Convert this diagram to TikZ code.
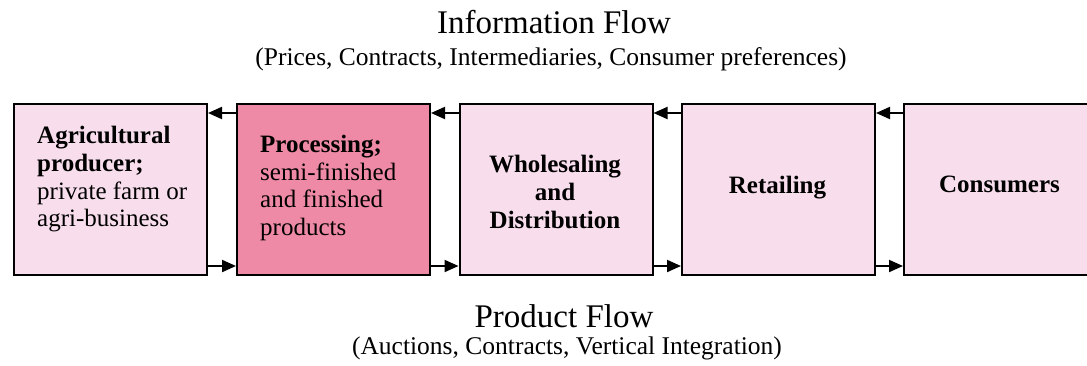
\documentclass[tikz,border=0pt]{standalone}
\usepackage{fontspec}
\setmainfont{Liberation Serif}
\usetikzlibrary{arrows.meta}
\definecolor{lightpink}{RGB}{248,222,236}
\definecolor{darkpink}{RGB}{239,138,166}
\begin{document}
\begin{tikzpicture}[x=1pt,y=-1pt,
 box/.style={draw=black, line width=2pt, minimum width=193pt, minimum height=171pt, inner sep=0pt, anchor=north west, fill=lightpink},
 arr/.style={line width=2pt, -{Triangle[length=14pt,width=12pt]}},
 boxtext/.style={inner sep=0pt, font=\fontsize{25}{27.7}\selectfont},
 titletext/.style={inner sep=0pt, font=\fontsize{33}{40}\selectfont, anchor=base},
 subtext/.style={inner sep=0pt, font=\fontsize{25.5}{30}\selectfont, anchor=base}]
\useasboundingbox (0,0) rectangle (1087,365);
\clip (0,0) rectangle (1087,365);
\node[box] (b1) at (13,103) {};
\node[box, fill=darkpink] (b2) at (236,103) {};
\node[box] (b3) at (458.5,103) {};
\node[box] (b4) at (681,103) {};
\node[box] (b5) at (903,103) {};
% texts
\node[boxtext, align=left, anchor=north west] (t1) at (37,126.3)
 {\textbf{Agricultural}\\\textbf{producer;}\\private farm or\\agri-business};
\node[boxtext, align=left, anchor=north west] (t2) at (260,134.8)
 {\textbf{Processing;}\\semi-finished\\and finished\\products};
\node[boxtext, align=center, anchor=north] (t3) at (555,155.2)
 {\textbf{Wholesaling}\\\textbf{and}\\\textbf{Distribution}};
\node[boxtext, anchor=base] (t4) at (777.5,193) {\textbf{Retailing}};
\node[boxtext, anchor=base] (t5) at (999.5,192) {\textbf{Consumers}};
% arrows
\foreach \l/\r in {b1/b2,b2/b3,b3/b4,b4/b5}{
  \draw[arr] ([yshift=-10pt]\r.north west) -- ([yshift=-10pt]\l.north east);
  \draw[arr] ([yshift=10pt]\l.south east) -- ([yshift=10pt]\r.south west);
}
% titles
\node[titletext] (it) at (554,33.5) {Information Flow};
\node[subtext] (is) at (551,65) {(Prices, Contracts, Intermediaries, Consumer preferences)};
\node[titletext] (pt) at (564,327.5) {Product Flow};
\node[subtext] (ps) at (567,354) {(Auctions, Contracts, Vertical Integration)};
\end{tikzpicture}
\end{document}
